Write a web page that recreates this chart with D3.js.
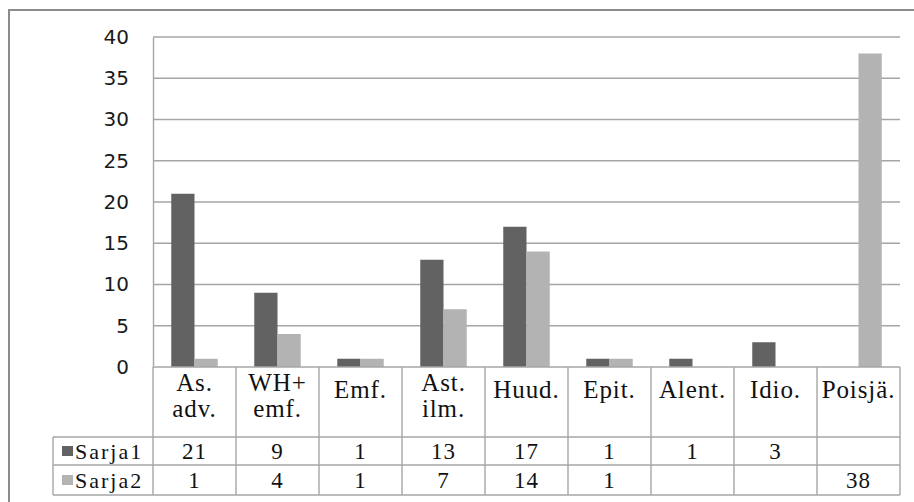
<!DOCTYPE html>
<html>
<head>
<meta charset="utf-8">
<script src="https://cdn.jsdelivr.net/npm/d3@7"></script>
<style>
  html, body { margin: 0; padding: 0; background: #fff; }
  svg { display: block; }
</style>
</head>
<body>
<svg id="chart" width="914" height="502"></svg>
<script>
// ---- data ----
const categories = [["As.", "adv."], ["WH+", "emf."], ["Emf."], ["Ast.", "ilm."], ["Huud."], ["Epit."], ["Alent."], ["Idio."], ["Poisjä."]];
const seriesNames = ["Sarja1", "Sarja2"];
const sarja1 = [21, 9, 1, 13, 17, 1, 1, 3, null];
const sarja2 = [1, 4, 1, 7, 14, 1, null, null, 38];
const yTicks = [0, 5, 10, 15, 20, 25, 30, 35, 40];
const seriesColors = ["#626262", "#b3b3b3"];

// ---- layout ----
const SERIF = "'Liberation Serif', 'Times New Roman', Times, 'DejaVu Serif', serif";
const SANS = "'DejaVu Sans', Verdana, sans-serif";
const svg = d3.select("#chart");
const plotLeft = 153, plotRight = 900, plotTop = 37, plotBottom = 367;
const legendLeft = 53;
const rowCatBottom = 437, row1Bottom = 465, row2Bottom = 495;
const gridColor = "#a6a6a6";

// frame
svg.append("rect").attr("x", 9).attr("y", 10).attr("width", 930).attr("height", 520)
  .attr("fill", "none").attr("stroke", "#8c8c8c").attr("stroke-width", 2);

const idx = categories.map((d, i) => i);
const x = d3.scaleBand().domain(idx).range([plotLeft, plotRight]).paddingInner(0).paddingOuter(0);
const y = d3.scaleLinear().domain([0, 40]).range([plotBottom, plotTop]);
const barW = x.bandwidth() * 0.28;
const xs = d3.scaleBand().domain([0, 1]).range([0, barW * 2]);

// gridlines
svg.append("g").selectAll("line").data(yTicks.filter(t => t > 0)).join("line")
  .attr("x1", plotLeft).attr("x2", plotRight)
  .attr("y1", d => y(d)).attr("y2", d => y(d))
  .attr("stroke", gridColor).attr("stroke-width", 1.4);

// y axis
const yAxis = d3.axisLeft(y).tickValues(yTicks).tickSize(0).tickPadding(24);
const gy = svg.append("g").attr("transform", `translate(${plotLeft},0)`).call(yAxis);
gy.attr("font-family", SANS).attr("font-size", 20);
gy.select(".domain").attr("stroke", gridColor).attr("stroke-width", 1.4);
gy.selectAll("text").attr("fill", "#1a1a1a");

// bars
const seriesData = [sarja1, sarja2];
seriesData.forEach((vals, s) => {
  svg.append("g").selectAll("rect").data(vals.map((v, i) => ({v, i})).filter(d => d.v != null)).join("rect")
    .attr("x", d => x(d.i) + (x.bandwidth() - barW * 2) / 2 + xs(s))
    .attr("width", xs.bandwidth())
    .attr("y", d => y(d.v))
    .attr("height", d => y(0) - y(d.v))
    .attr("fill", seriesColors[s]);
});

// data table
const tg = svg.append("g").attr("stroke", gridColor).attr("stroke-width", 1.4);
[[plotLeft, plotBottom], [legendLeft, rowCatBottom], [legendLeft, row1Bottom], [legendLeft, row2Bottom]].forEach(([x0, yy]) => {
  tg.append("line").attr("x1", x0).attr("x2", plotRight).attr("y1", yy).attr("y2", yy);
});
idx.concat([idx.length]).forEach(i => {
  const xx = i < idx.length ? x(i) : plotRight;
  tg.append("line").attr("x1", xx).attr("x2", xx).attr("y1", plotBottom).attr("y2", row2Bottom);
});
tg.append("line").attr("x1", legendLeft).attr("x2", legendLeft).attr("y1", rowCatBottom).attr("y2", row2Bottom);

// category labels
const catG = svg.append("g").attr("font-family", SERIF).attr("font-size", 25).attr("fill", "#111").attr("text-anchor", "middle");
categories.forEach((lines, i) => {
  const cx = x(i) + x.bandwidth() / 2;
  const t = catG.append("text").attr("x", cx).attr("letter-spacing", 0.9);
  if (lines.length === 2) {
    t.append("tspan").attr("x", cx).attr("y", 391).text(lines[0]);
    t.append("tspan").attr("x", cx).attr("y", 417).text(lines[1]);
  } else {
    t.append("tspan").attr("x", cx).attr("y", 398).text(lines[0]);
  }
});

// value rows
const rowY = [459, 488];
const rowMid = [(rowCatBottom + row1Bottom) / 2, (row1Bottom + row2Bottom) / 2];
seriesData.forEach((vals, s) => {
  const g = svg.append("g").attr("font-family", SERIF).attr("font-size", 23).attr("fill", "#111").attr("text-anchor", "middle");
  vals.forEach((v, i) => {
    if (v == null) return;
    g.append("text").attr("x", x(i) + x.bandwidth() / 2).attr("y", rowY[s]).attr("letter-spacing", 1).text(v);
  });
  svg.append("rect").attr("x", 62).attr("y", rowMid[s] - 5).attr("width", 11).attr("height", 10).attr("fill", seriesColors[s]);
  svg.append("text").attr("font-family", SERIF).attr("x", 75).attr("y", rowY[s]).attr("font-size", 22)
    .attr("letter-spacing", 2).attr("fill", "#111").text(seriesNames[s]);
});
</script>
</body>
</html>
